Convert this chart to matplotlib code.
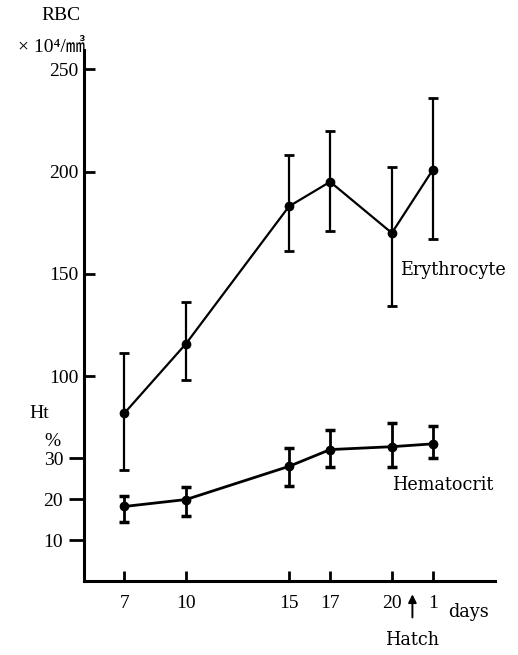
import matplotlib
matplotlib.use("Agg")
import matplotlib.pyplot as plt

plt.rcParams['font.family'] = ['Liberation Serif', 'DejaVu Serif', 'Noto Sans CJK JP']
WORD_FONT = ['DejaVu Serif']

# days of incubation (the last point is day 1 after hatching, drawn at 22)
days = [7, 10, 15, 17, 20, 22]
day_labels = ['7', '10', '15', '17', '20', '1']

# erythrocyte count (x10^4 / mm3): mean, lower and upper bar ends
rbc_mean = [82, 116, 183, 195, 170, 201]
rbc_low = [54, 98, 161, 171, 134.5, 167]
rbc_high = [111.5, 136.5, 208, 220, 202, 236]

# hematocrit (%)
ht_mean = [18.2, 19.9, 28, 32.1, 32.8, 33.5]
ht_low = [14.5, 15.8, 23.3, 27.8, 27.8, 30]
ht_high = [20.7, 23, 32.5, 36.8, 38.5, 37.8]

rbc_ticks = [100, 150, 200, 250]
ht_ticks = [10, 20, 30]
hatch_day = 21

fig = plt.figure(figsize=(5.18, 6.55), dpi=100)
ax = fig.add_axes([0.162, 0.113, 0.793, 0.811])
ax.set_xlim(5.03, 25.0)
ax.set_ylim(0, 259.5)

err_rbc = [[m - l for m, l in zip(rbc_mean, rbc_low)],
           [h - m for m, h in zip(rbc_mean, rbc_high)]]
ax.errorbar(days, rbc_mean, yerr=err_rbc, color='black', lw=1.6, marker='o',
            ms=6, capsize=3.6, capthick=2, elinewidth=1.6)

ax2 = ax.twinx()
ax2.set_ylim(0, 259.5 / 2)
err_ht = [[m - l for m, l in zip(ht_mean, ht_low)],
          [h - m for m, h in zip(ht_mean, ht_high)]]
ax2.errorbar(days, ht_mean, yerr=err_ht, color='black', lw=2, marker='o',
             ms=6, capsize=3.6, capthick=2.5, elinewidth=2)

for a in (ax, ax2):
    a.spines['top'].set_visible(False)
    a.spines['right'].set_visible(False)
ax2.spines['left'].set_visible(False)
ax2.spines['bottom'].set_visible(False)
ax.spines['left'].set_linewidth(2.2)
ax.spines['bottom'].set_linewidth(2.2)

ax.set_xticks(days)
ax.set_xticklabels(day_labels)
ax.set_yticks(rbc_ticks)
ax.tick_params(axis='x', direction='in', length=7, width=2, pad=10, labelsize=14)
ax.tick_params(axis='y', direction='in', length=8, width=2, pad=4, labelsize=14)

ax2.yaxis.tick_left()
ax2.set_yticks(ht_ticks)
ax2.tick_params(axis='y', direction='out', length=11, width=2, pad=4, labelsize=14)

ax.text(20.4, 152, 'Erythrocyte', fontsize=12.7, family=WORD_FONT, va='center', ha='left')
ax.text(20.0, 47, 'Hematocrit', fontsize=12.7, family=WORD_FONT, va='center', ha='left')

fig.text(61 / 518, 1 - 16 / 655, 'RBC', fontsize=14, ha='center', va='center')
fig.text(85 / 518, 1 - 47 / 655, '× 10⁴/㎣', fontsize=14, ha='right', va='center')
fig.text(39 / 518, 1 - 413 / 655, 'Ht', fontsize=14, ha='center', va='center')
fig.text(52 / 518, 1 - 441 / 655, '%', fontsize=14, ha='center', va='center')
fig.text(448 / 518, 1 - 612 / 655, 'days', fontsize=12.7, family=WORD_FONT,
         ha='left', va='center')

ax.annotate('Hatch', xy=(hatch_day, -6.5), xytext=(hatch_day, -29),
            ha='center', va='center', fontsize=12.7, family=WORD_FONT,
            annotation_clip=False,
            arrowprops=dict(arrowstyle='-|>', color='black', lw=1.4,
                            mutation_scale=12, shrinkA=8, shrinkB=0))

fig.savefig('out.png', dpi=100)
